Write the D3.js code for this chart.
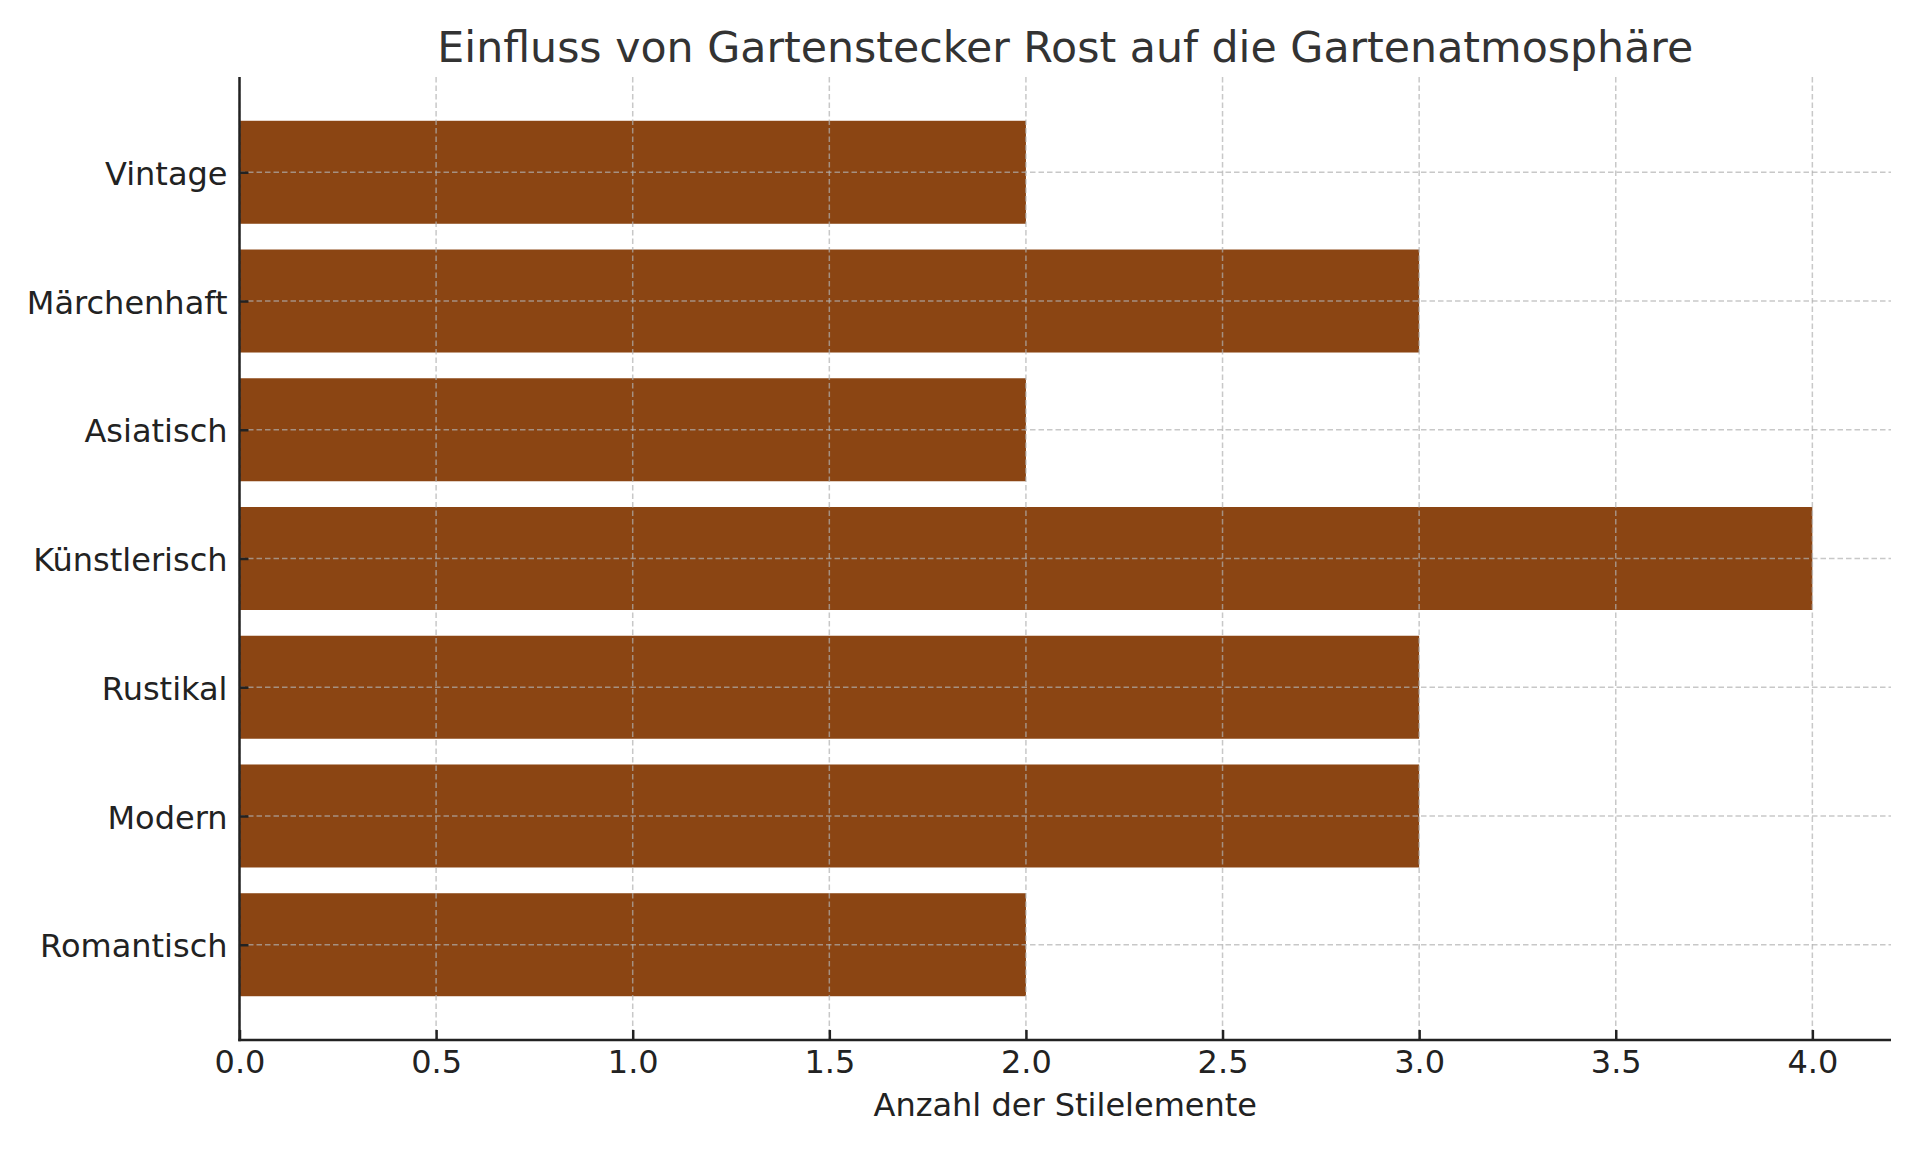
<!DOCTYPE html>
<html>
<head>
<meta charset="utf-8">
<script src="https://cdn.jsdelivr.net/npm/d3@7"></script>
<style>
  html, body { margin: 0; padding: 0; background: #fff; }
  svg { display: block; }
  text { font-family: "DejaVu Sans", sans-serif; }
</style>
</head>
<body>
<script>
// ---- Data ----
const categories = ["Romantisch", "Modern", "Rustikal", "Künstlerisch", "Asiatisch", "Märchenhaft", "Vintage"];
const values = [2, 3, 3, 4, 2, 3, 2];
const xTicks = [0, 0.5, 1.0, 1.5, 2.0, 2.5, 3.0, 3.5, 4.0];
const titleText = "Einfluss von Gartenstecker Rost auf die Gartenatmosphäre";
const xLabelText = "Anzahl der Stilelemente";

// ---- Layout ----
const W = 1920, H = 1152;
const mLeft = 239.5, mRight = 1891, mTop = 77, mBottom = 1040;
const barH = 0.8;
const yPad = 0.4 + 0.05 * (categories.length - 1 + barH);

const svg = d3.select("body").append("svg").attr("width", W).attr("height", H);
svg.append("rect").attr("width", W).attr("height", H).attr("fill", "#fff");

const x = d3.scaleLinear().domain([0, 4.2]).range([mLeft, mRight]);
const y = d3.scaleLinear().domain([-yPad, categories.length - 1 + yPad]).range([mBottom, mTop]);

// Bars
svg.append("g").selectAll("rect").data(values).join("rect")
  .attr("x", x(0))
  .attr("y", (d, i) => y(i + barH / 2))
  .attr("width", d => x(d) - x(0))
  .attr("height", (d, i) => y(i - barH / 2) - y(i + barH / 2))
  .attr("fill", "#8B4513");

// Grid (above bars)
const grid = svg.append("g").attr("stroke", "#b0b0b0").attr("stroke-opacity", 0.7)
  .attr("stroke-width", 1.5).attr("stroke-dasharray", "5.5,3");
grid.selectAll("line.vx").data(xTicks).join("line").attr("class", "vx")
  .attr("x1", d => x(d)).attr("x2", d => x(d)).attr("y1", mTop).attr("y2", mBottom);
grid.selectAll("line.hy").data(categories).join("line").attr("class", "hy")
  .attr("x1", mLeft).attr("x2", mRight).attr("y1", (d, i) => y(i)).attr("y2", (d, i) => y(i));

// X axis
const xAxis = svg.append("g").attr("transform", `translate(0,${mBottom})`)
  .call(d3.axisBottom(x).tickValues(xTicks).tickFormat(d3.format(".1f")).tickSize(-10).tickPadding(10.5).tickSizeOuter(0));
xAxis.select(".domain").remove();
xAxis.selectAll(".tick line").attr("stroke", "#222").attr("stroke-width", 2.5);
xAxis.selectAll(".tick text").attr("font-size", 32).attr("fill", "#222").attr("font-family", "DejaVu Sans");

// Y axis
const yAxis = svg.append("g").attr("transform", `translate(${mLeft},0)`)
  .call(d3.axisLeft(y).tickValues(d3.range(categories.length)).tickFormat(i => categories[i]).tickSize(-9).tickPadding(12).tickSizeOuter(0));
yAxis.select(".domain").remove();
yAxis.selectAll(".tick line").attr("stroke", "#222").attr("stroke-width", 2.5);
yAxis.selectAll(".tick text").attr("font-size", 32).attr("fill", "#222").attr("dy", "0.38em").attr("font-family", "DejaVu Sans");

// Spines
svg.append("line").attr("x1", mLeft).attr("x2", mLeft).attr("y1", mTop).attr("y2", mBottom + 1.25)
  .attr("stroke", "#222").attr("stroke-width", 2.5);
svg.append("line").attr("x1", mLeft - 1.25).attr("x2", mRight).attr("y1", mBottom).attr("y2", mBottom)
  .attr("stroke", "#222").attr("stroke-width", 2.5);

// Title
svg.append("text").attr("x", (mLeft + mRight) / 2).attr("y", 62).attr("text-anchor", "middle")
  .attr("font-size", 42.7).attr("fill", "#333").text(titleText);

// X label
svg.append("text").attr("x", (mLeft + mRight) / 2).attr("y", 1116).attr("text-anchor", "middle")
  .attr("font-size", 32).attr("fill", "#222").text(xLabelText);
</script>
</body>
</html>
